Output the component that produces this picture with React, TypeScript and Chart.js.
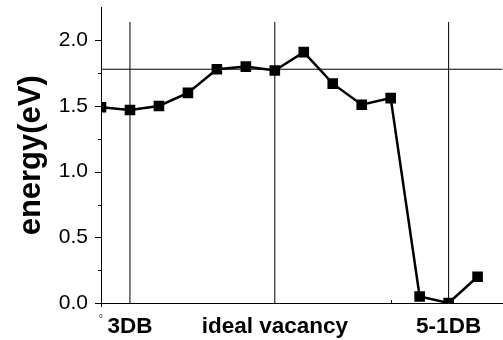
import React, { useEffect, useRef } from 'react';
import { Chart, registerables } from 'chart.js';

Chart.register(...registerables);

const FONT = '"Liberation Sans", Arial, Helvetica, sans-serif';

// data
const stepIndex = [0, 1, 2, 3, 4, 5, 6, 7, 8, 9, 10, 11, 12, 13];
const energy = [1.49, 1.47, 1.5, 1.6, 1.78, 1.8, 1.77, 1.91, 1.67, 1.51, 1.56, 0.05, 0.0, 0.2];
const referenceEnergy = 1.78;
const markerPositions = [1, 6, 12];
const markerLineTop = 2.14;
const xTickValues = [0, 1, 6, 12];
const xTickLabels = ['0', '3DB', 'ideal vacancy', '5-1DB'];
const yMajorTicks = [0, 0.5, 1.0, 1.5, 2.0];
const yMinorTicks = [0.25, 0.75, 1.25, 1.75];
const xDownTicks = [0];
const xUpTicks = [10];
const X_MIN = 0;
const X_MAX = 13.86;
const Y_MIN = 0;
const Y_MAX = 2.25;

const tickPlugin = {
  id: 'originTicks',
  afterDraw(chart: any) {
    const { ctx, chartArea, scales } = chart;
    const x = scales.x;
    const y = scales.y;
    ctx.save();
    ctx.strokeStyle = '#000';
    ctx.lineWidth = 1;
    const seg = (x1: number, y1: number, x2: number, y2: number) => {
      ctx.beginPath();
      ctx.moveTo(x1, y1);
      ctx.lineTo(x2, y2);
      ctx.stroke();
    };
    const l = chartArea.left;
    const b = chartArea.bottom;
    yMajorTicks.forEach((v) => {
      const py = Math.round(y.getPixelForValue(v)) + 0.5;
      seg(l - 6, py, l, py);
    });
    yMinorTicks.forEach((v) => {
      const py = Math.round(y.getPixelForValue(v)) + 0.5;
      seg(l - 3, py, l, py);
    });
    xDownTicks.forEach((v) => {
      const px = Math.round(x.getPixelForValue(v)) + 0.5;
      seg(px, b, px, b + 4);
    });
    xUpTicks.forEach((v) => {
      const px = Math.round(x.getPixelForValue(v)) + 0.5;
      seg(px, b, px, b - 3);
    });
    ctx.restore();
  },
};

export default function App() {
  const ref = useRef<HTMLCanvasElement | null>(null);

  useEffect(() => {
    if (!ref.current) return;
    const mainData = stepIndex.map((s, i) => ({ x: s, y: energy[i] }));
    const vLines = markerPositions.map((p) => ({
      data: [
        { x: p, y: Y_MIN },
        { x: p, y: markerLineTop },
      ],
      borderColor: '#000',
      borderWidth: 1,
      pointRadius: 0,
      fill: false,
      clip: 0,
    }));
    const chart = new Chart(ref.current, {
      type: 'line',
      data: {
        datasets: [
          {
            data: mainData,
            borderColor: '#000',
            borderWidth: 2.5,
            pointStyle: 'rect',
            pointRadius: 7.5,
            pointBackgroundColor: '#000',
            pointBorderWidth: 0,
            fill: false,
            tension: 0,
            clip: 0,
          },
          {
            data: [
              { x: X_MIN, y: referenceEnergy },
              { x: X_MAX, y: referenceEnergy },
            ],
            borderColor: '#000',
            borderWidth: 1,
            pointRadius: 0,
            fill: false,
            clip: 0,
          },
          ...vLines,
        ] as any,
      },
      options: {
        animation: false,
        responsive: false,
        events: [],
        layout: { padding: { top: 7, left: 0, right: 0, bottom: 0 } },
        plugins: { legend: { display: false }, tooltip: { enabled: false } },
        scales: {
          x: {
            type: 'linear',
            min: X_MIN,
            max: X_MAX,
            afterBuildTicks: (s: any) => {
              s.ticks = xTickValues.map((v) => ({ value: v }));
            },
            afterFit: (s: any) => {
              s.height = 37;
              s.paddingLeft = 0;
              s.paddingRight = 0;
            },
            ticks: {
              autoSkip: false,
              maxRotation: 0,
              minRotation: 0,
              padding: 10,
              color: '#000',
              callback: (v: any) => {
                const i = xTickValues.indexOf(Number(v));
                return i >= 0 ? xTickLabels[i] : '';
              },
              font: (c: any) =>
                c.index === 0
                  ? { size: 6, family: FONT }
                  : { size: 22.5, weight: 'bold', family: FONT },
            },
            grid: { display: false, drawTicks: false },
            border: { display: true, color: '#000', width: 1 },
          },
          y: {
            type: 'linear',
            min: Y_MIN,
            max: Y_MAX,
            afterBuildTicks: (s: any) => {
              s.ticks = yMajorTicks.map((v) => ({ value: v }));
            },
            afterFit: (s: any) => {
              s.width = 101;
              s.paddingTop = 0;
              s.paddingBottom = 0;
            },
            ticks: {
              padding: 13,
              color: '#000',
              font: { size: 21, family: FONT },
              callback: (v: any) => Number(v).toFixed(1),
            },
            grid: { display: false, drawTicks: false },
            border: { display: true, color: '#000', width: 1 },
            title: {
              display: true,
              text: 'energy(eV)',
              color: '#000',
              font: { size: 31, weight: 'bold', family: FONT },
              padding: { top: 13, bottom: 0 },
            },
          },
        },
      } as any,
      plugins: [tickPlugin],
    });
    return () => chart.destroy();
  }, []);

  return (
    <div style={{ position: 'fixed', left: 0, top: 0, width: 510, height: 340, background: '#fff' }}>
      <canvas ref={ref} width={510} height={340} style={{ display: 'block' }} />
    </div>
  );
}
